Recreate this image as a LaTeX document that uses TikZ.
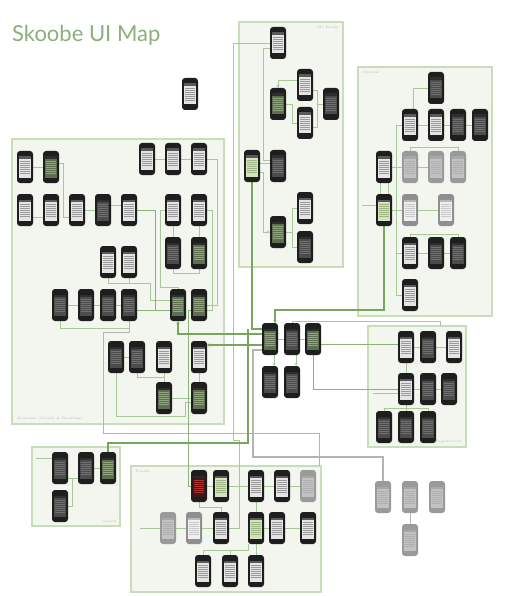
\documentclass[tikz,border=0pt]{standalone}
\usepackage{fontspec}
\newfontfamily\titlefont{Lato}
\usetikzlibrary{arrows.meta}
\pgfdeclarelayer{panels}
\pgfdeclarelayer{lines}
\pgfsetlayers{panels,lines,main}
\definecolor{panelfill}{HTML}{F3F5EF}
\definecolor{panelline}{HTML}{C8DDB8}
\definecolor{thickg}{HTML}{77A65E}
\definecolor{thing}{HTML}{A9C898}
\definecolor{greyline}{HTML}{B4B4B4}
\definecolor{titleg}{HTML}{8DAF7A}
% phone colours
\definecolor{bodyW}{HTML}{1E1E1E}\definecolor{scrW}{HTML}{E4E4E4}\definecolor{barW}{HTML}{5A5A5A}\definecolor{txtW}{HTML}{9A9A9A}
\definecolor{bodyD}{HTML}{1E1E1E}\definecolor{scrD}{HTML}{4C4C4C}\definecolor{barD}{HTML}{2E2E2E}\definecolor{txtD}{HTML}{707070}
\definecolor{bodyG}{HTML}{9A9A9A}\definecolor{scrG}{HTML}{C2C2C2}\definecolor{barG}{HTML}{A8A8A8}\definecolor{txtG}{HTML}{AFAFAF}
\definecolor{bodyL}{HTML}{8F8F8F}\definecolor{scrL}{HTML}{F0F0F0}\definecolor{barL}{HTML}{B8B8B8}\definecolor{txtL}{HTML}{C8C8C8}
\definecolor{bodyH}{HTML}{1E1E1E}\definecolor{scrH}{HTML}{D4E3BD}\definecolor{barH}{HTML}{5A5A5A}\definecolor{txtH}{HTML}{9DB585}
\definecolor{bodyR}{HTML}{1E1E1E}\definecolor{scrR}{HTML}{3A1A1A}\definecolor{barR}{HTML}{2A2A2A}\definecolor{txtR}{HTML}{B03030}
\definecolor{bodyK}{HTML}{1E1E1E}\definecolor{scrK}{HTML}{5E6E50}\definecolor{barK}{HTML}{2E2E2E}\definecolor{txtK}{HTML}{8FA67E}
\tikzset{
  phbody/.style={rounded corners=3pt, minimum width=16pt, minimum height=32pt, inner sep=0pt, outer sep=0pt},
  panel/.style={fill=panelfill, draw=panelline, line width=1.3pt},
  lnA/.style={draw=thing, line width=0.5pt},
  lnThick/.style={draw=thickg, line width=1.4pt},
  lnMid/.style={draw=thickg!85, line width=0.9pt},
  lnGrey/.style={draw=greyline, line width=1.4pt},
  lnGreyThin/.style={draw=greyline, line width=0.6pt},
  arr/.style={-{Stealth[length=3pt,width=3pt]}},
  lbl/.style={font=\fontsize{3.5}{4}\selectfont, text=gray!55, inner sep=0.5pt},
}
\newcommand\mkphone[4]{%
  \node[phbody, fill=body#4] (#1) at (#2,#3) {};
  \fill[fill=scr#4] (#2-6.2,#3-10.5) rectangle (#2+6.2,#3+10.5);
  \fill[fill=bar#4] (#2-6.2,#3-10.5) rectangle (#2+6.2,#3-8.3);
  \foreach \k in {-5.5,-3.5,...,6.5}{\draw[draw=txt#4, line width=0.45pt] (#2-4.6,#3+\k) -- (#2+4.6,#3+\k);}
}
\begin{document}
\begin{tikzpicture}[x=1pt,y=-1pt]
\begin{pgfonlayer}{panels}
\fill[white] (0,0) rectangle (506,596);
\draw[panel] (12,139) rectangle (224,424);
\draw[panel] (239,22) rectangle (343,267);
\draw[panel] (358,67) rectangle (492,316);
\draw[panel] (368,326) rectangle (466,447);
\draw[panel] (32,447) rectangle (120,526);
\draw[panel] (131,466) rectangle (321,592);
\end{pgfonlayer}
\useasboundingbox (0,0) rectangle (506,596);

% title
\node[anchor=base west, inner sep=0pt, text=titleg, font=\titlefont\fontsize{22}{22}\selectfont] (title) at (12,42) {Skoobe UI Map};

\node[lbl, anchor=north east] (lblmy) at (339,25) {My Books};
\node[lbl, anchor=north west] (lblopt) at (362,70) {Options};
\node[lbl, anchor=south west] (lblana) at (16,421) {Anatomie (Details \& Browsing)};
\node[lbl, anchor=south east] (lblreg) at (462,444) {Registration};
\node[lbl, anchor=south east] (lblsrch) at (117,523) {Search};
\node[lbl, anchor=north west] (lblread) at (135,469) {Reader};

% free ends
\coordinate (rdtop) at (319,466);
\coordinate (regtop) at (440,326);
\coordinate (optin) at (362,205);
\coordinate (regin) at (373,393);
\coordinate (srchin) at (36,458);
\coordinate (readin) at (140,528);

% ---------- phones ----------
\mkphone{s0}{190}{94}{W}
% My Books
\mkphone{m1}{278}{43}{W}
\mkphone{m2}{305}{85}{W}
\mkphone{m3}{278}{104}{K}
\mkphone{m4}{305}{123}{W}
\mkphone{m5}{331}{104}{D}
\mkphone{m6}{252}{166}{H}
\mkphone{m7}{278}{166}{D}
\mkphone{m8}{305}{208}{W}
\mkphone{m9}{278}{232}{K}
\mkphone{m10}{305}{247}{D}
% Options
\mkphone{o1}{436}{88}{D}
\mkphone{o2}{410}{125}{W}
\mkphone{o3}{436}{125}{W}
\mkphone{o4}{458}{125}{D}
\mkphone{o5}{480}{125}{D}
\mkphone{o6}{384}{167}{W}
\mkphone{o7}{410}{167}{G}
\mkphone{o8}{436}{167}{G}
\mkphone{o9}{458}{167}{G}
\mkphone{o10}{384}{210}{H}
\mkphone{o11}{410}{210}{L}
\mkphone{o12}{446}{210}{L}
\mkphone{o13}{410}{253}{W}
\mkphone{o14}{436}{253}{D}
\mkphone{o15}{458}{253}{D}
\mkphone{o16}{410}{295}{W}
% Anatomie
\mkphone{a1}{147}{159}{W}
\mkphone{a2}{173}{159}{W}
\mkphone{a3}{199}{159}{W}
\mkphone{a4}{25}{167}{W}
\mkphone{a5}{51}{167}{K}
\mkphone{b1}{25}{210}{W}
\mkphone{b2}{51}{210}{W}
\mkphone{b3}{77}{210}{W}
\mkphone{b4}{103}{210}{D}
\mkphone{b5}{129}{210}{W}
\mkphone{b6}{173}{210}{W}
\mkphone{b7}{199}{210}{W}
\mkphone{c1}{173}{253}{D}
\mkphone{c2}{199}{253}{K}
\mkphone{c3}{108}{262}{W}
\mkphone{c4}{129}{262}{W}
\mkphone{d1}{60}{305}{D}
\mkphone{d2}{86}{305}{D}
\mkphone{d3}{108}{305}{D}
\mkphone{d4}{129}{305}{D}
\mkphone{d5}{178}{305}{K}
\mkphone{d6}{199}{305}{K}
\mkphone{e1}{116}{357}{D}
\mkphone{e2}{137}{357}{D}
\mkphone{e3}{164}{357}{W}
\mkphone{e4}{199}{357}{W}
\mkphone{f1}{164}{398}{K}
\mkphone{f2}{199}{398}{K}
% hub
\mkphone{h1}{270}{339}{K}
\mkphone{h2}{292}{339}{D}
\mkphone{h3}{313}{339}{K}
\mkphone{h4}{270}{382}{D}
\mkphone{h5}{292}{382}{D}
% Registration
\mkphone{r1}{406}{347}{W}
\mkphone{r2}{428}{347}{D}
\mkphone{r3}{454}{347}{W}
\mkphone{r4}{406}{389}{W}
\mkphone{r5}{428}{389}{D}
\mkphone{r6}{449}{389}{D}
\mkphone{r7}{384}{427}{D}
\mkphone{r8}{406}{427}{D}
\mkphone{r9}{428}{427}{D}
% Search
\mkphone{q1}{60}{468}{D}
\mkphone{q2}{86}{468}{D}
\mkphone{q3}{108}{468}{K}
\mkphone{q4}{60}{506}{D}
% Reader
\mkphone{p1}{199}{486}{R}
\mkphone{p2}{221}{486}{H}
\mkphone{p3}{256}{486}{W}
\mkphone{p4}{282}{486}{W}
\mkphone{p5}{308}{486}{G}
\mkphone{p6}{168}{528}{G}
\mkphone{p7}{194}{528}{L}
\mkphone{p8}{221}{528}{W}
\mkphone{p9}{256}{528}{H}
\mkphone{p10}{277}{528}{W}
\mkphone{p11}{308}{528}{W}
\mkphone{p12}{203}{571}{W}
\mkphone{p13}{230}{571}{W}
\mkphone{p14}{256}{571}{W}
% outside
\mkphone{x1}{383}{497}{G}
\mkphone{x2}{410}{497}{G}
\mkphone{x3}{437}{497}{G}
\mkphone{x4}{410}{540}{G}

% ---------- connectors (on layer below phones) ----------
\begin{pgfonlayer}{lines}
% Anatomie thin
\draw[lnA] (a4.east) -- (a5.west);
\draw[lnA] ([yshift=4pt]a5.east) -- ++(4,0) |- ([yshift=-7pt]b3.west);
\draw[lnA] ([yshift=-7pt]b1.east) -- ([yshift=-7pt]b2.west);
\draw[lnA] (b3.east) -- (b4.west);
\draw[lnA] ([yshift=5pt]b4.east) -- ([yshift=5pt]b5.west);
\draw[lnA] (a1.east) -- (a2.west);
\draw[lnA] (a2.east) -- (a3.west);
\draw[lnA] (a3.east) -- ++(10,0) |- (d6.east);
\draw[lnA] (b7.east) -- ++(5,0) |- ([yshift=-5pt]d6.east);
\draw[lnA] (b6.west) -| (160,287) -| (d5.north);
\draw[lnA] (b6.south) -- (c1.north);
\draw[lnA] (b7.south) -- (c2.north);
\draw[lnA] (c1.south) -- ++(0,4) -| (c2.south);
\draw[lnA] (c3.south) |- (150,283) -- (150,300) -- ([yshift=5pt]d5.west);
\draw[lnA] (c4.south) -- ++(0,5);
\draw[lnA] (d1.east) -- (d2.west);
\draw[lnA] (d2.east) -- (d3.west);
\draw[lnA] (d3.east) -- (d4.west);
\draw[lnA] (d1.south) -- ++(0,7) -| (d4.south);
\draw[lnA] (e1.east) -- (e2.west);
\draw[lnA] (e2.south) -- ++(0,4) -| (f1.north);
\draw[lnA] (e3.south) -- (f1.north);
\draw[lnA] (e4.south) -- (f2.north);
\draw[lnA] (f1.east) -- (f2.west);
\draw[lnA] (e1.south) |- (185,416) |- ([yshift=-4pt]f2.west);
\draw[lnGreyThin] (d4.south) -- (129,332) -- (103,332) -- (103,433) -| (rdtop);
% Anatomie thick / mid
\draw[lnMid] (b5.east) -- (155,210) |- ([yshift=-5pt]d5.west);
\draw[lnMid] ([yshift=-5pt]d4.east) -- ([yshift=-5pt]d5.west);
\draw[lnMid] ([yshift=-5pt]d6.west) -- ++(-3,0) |- (p1.west);
% My Books thin
\draw[lnA] (m1.west) -- (233,43) -- (233,440) -- (239,440) |- (p8.east);
\draw[lnA] ([yshift=-5pt]m1.west) -- (263,48) |- ([yshift=6pt]m7.west);
\draw[lnA, arr] ([yshift=5pt]m2.west) -| (m3.north);
\draw[lnA] (m3.east) -- ++(6,0) |- (m4.west);
\draw[lnA] ([yshift=-5pt]m2.east) -- ++(4,0) |- ([yshift=-4pt]m4.east);
\draw[lnA] (m5.west) -- ++(-6,0);
\draw[lnA] ([yshift=3pt]m6.east) -- ([yshift=3pt]m7.west);
\draw[lnA, arr] ([yshift=-6pt]m6.east) -- ++(3,0) |- (m9.west);
\draw[lnA] (m9.east) -- ++(6,0);
\draw[lnA] (m8.west) -- ++(-5,0) |- (m10.west);
% Options thin
\draw[lnA] ([xshift=-4pt]o6.south) -- ([xshift=-4pt]o10.north);
\draw[lnA] ([xshift=4pt]o6.south) -- ([xshift=4pt]o10.north);
\draw[lnA] (optin) -- ([yshift=5pt]o10.west);
\draw[lnA] (o2.west) -| (396,295) -- (o16.west);
\draw[lnA] (o6.east) -- (o7.west);
\draw[lnA] (o10.east) -- (o11.west);
\draw[lnA] (o13.west) -- ++(-6,0);
\draw[lnA] ([xshift=3pt]o2.north) |- (o1.west);
\draw[lnA] (o2.east) -- (o3.west);
\draw[lnA] (o3.east) -- (o4.west);
\draw[lnA] (o4.east) -- (o5.west);
\draw[lnA] (o7.north) -- ++(0,-4) -| (o9.north);
\draw[lnA] (o7.east) -- (o8.west);
\draw[lnA] (o11.east) -- (o12.west);
\draw[lnA] (o13.north) -- ++(0,-3) -| (o15.north);
\draw[lnA] (o13.east) -- (o14.west);
\draw[lnA] (o14.east) -- (o15.west);
% hub
\draw[lnA] (h1.east) -- (h2.west);
\draw[lnA] (h2.east) -- (h3.west);
\draw[lnA, arr] ([xshift=4pt]h1.south) -- ([xshift=4pt]h4.north);
\draw[lnA, arr] ([xshift=4pt]h2.south) -- ([xshift=4pt]h5.north);
\draw[lnMid] ([yshift=-5pt]h3.east) -- ([yshift=3pt]r1.west);
\draw[lnMid] (h3.south) |- (r4.west);
\draw[lnA] (h2.north) -- ++(0,-2) -| (regtop);
% Registration
\draw[lnA] (r1.south) -- (r4.north);
\draw[lnA] (r1.east) -- (r2.west);
\draw[lnA] (r2.east) -- (r3.west);
\draw[lnA] (r4.east) -- (r5.west);
\draw[lnA] (r5.east) -- (r6.west);
\draw[lnA] (r7.north) -- ++(0,-3) -| (r9.north);
\draw[lnA] (r4.south) -- (r8.north);
\draw[lnA] (regin) -- ([yshift=-4pt]r4.west);
% Search
\draw[lnA] (srchin) -- ([yshift=10pt]q1.west);
\draw[lnA] ([yshift=-10pt]q1.east) -- ++(4,0) |- (q4.east);
\draw[lnA] ([yshift=-10pt]q1.east) -- ([yshift=-10pt]q2.west);
\draw[lnA] (q2.east) -- (q3.west);
% Reader
\draw[lnA] (readin) -- (p6.west);
\draw[lnA] (p6.east) -- (p7.west);
\draw[lnA] (p7.east) -- (p8.west);
\draw[lnA] (p1.east) -- (p2.west);
\draw[lnA] (p2.east) -- (p3.west);
\draw[lnA] (p3.east) -- (p4.west);
\draw[lnA] (p4.east) -- (p5.west);
\draw[lnA] (p3.south) -- (p9.north);
\draw[lnA] (p9.east) -- (p10.west);
\draw[lnA] (p10.east) -- (p11.west);
\draw[lnA] ([xshift=-8pt]p9.south) -- ++(0,6) -| (p12.north);
\draw[lnA] (p13.north) -- ++(0,-5);
\draw[lnA] (p9.south) -- (p14.north);
\draw[lnA] (p1.south) -- ++(0,5) -| (p8.north);
% outside
\draw[lnGreyThin] (x2.south) -- (x4.north);
% thick main lines
\draw[lnThick] (m6.south) |- ([yshift=10pt]h1.west);
\draw[lnThick] ([xshift=-14pt,yshift=10pt]h1.west) -- ++(0,114) -| (q3.north);
\draw[lnThick, arr] (o10.south) -- ++(0,84) -| ([xshift=5pt]h1.north);
\draw[lnThick, arr] ([yshift=5pt]h1.west) -| (d5.south);
\draw[lnThick, arr] ([yshift=-6pt]h1.west) -- ([yshift=12pt]e4.east);
\draw[lnGrey] ([yshift=-11pt]h1.west) -- ++(-9,0) -- (253,457) -| (x1.north);
\end{pgfonlayer}
\end{tikzpicture}
\end{document}
